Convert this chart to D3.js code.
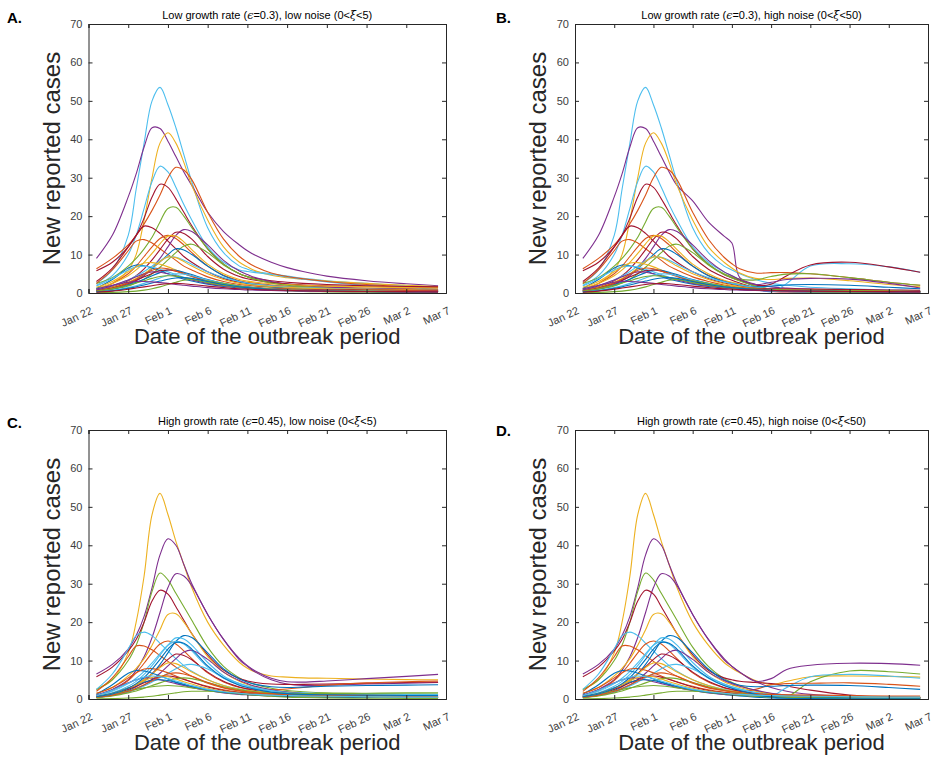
<!DOCTYPE html>
<html><head><meta charset="utf-8">
<script src="https://cdn.jsdelivr.net/npm/d3@7"></script>
<style>
body{margin:0;background:#fff}
svg{display:block}
text{font-family:"Liberation Sans",Arial,Helvetica,sans-serif}
</style>
</head><body>
<svg id="chart" width="935" height="763"></svg>
<script>
// ---------------- DATA ----------------
const tickDays = [0,5,10,15,20,25,30,35,40,45];
const tickLabels = ["Jan 22","Jan 27","Feb 1","Feb 6","Feb 11","Feb 16","Feb 21","Feb 26","Mar 2","Mar 7"];
const yTicks = [0,10,20,30,40,50,60,70];
const earlyDays = [1,3,5,6,7,8,9,10,11,12,13];
const lateDays = [15,17,19,20,21,23,25,27,30,35,40,44];
const titles = [
  "Low growth rate (ϵ=0.3), low noise (0<ξ<5)",
  "Low growth rate (ϵ=0.3), high noise (0<ξ<50)",
  "High growth rate (ϵ=0.45), low noise (0<ξ<5)",
  "High growth rate (ϵ=0.45), high noise (0<ξ<50)"
];
const panelLetters = ["A.","B.","C.","D."];
const yLabel = "New reported cases";
const xLabel = "Date of the outbreak period";

// colour keys (MATLAB default order)
const abColors = ["C","P","Y","C","O","R","G","R","O","O","P","R","Y","G","B","C","Y","B","C","Y","B","R","P","O","C","G","G","B","P","R"];
const cdColors = ["Y","P","G","P","R","Y","C","O","O","B","C","C","P","R","Y","B","C","O","R","P","G","G","G","B","Y","O","B","C"];

// low growth rate curves, days 1..13 (shared by A and B)
const abEarly = [
 [2.5,6,15,27,39,50,53.5,49,43,36,29],
 [9,15,25,31,38,43,42.8,39.5,35.5,31.5,28],
 [1,2.5,6,10,19,30,39,41.7,39,34,28],
 [2,4.5,10,15,22,29,33,31.5,27.5,23,19],
 [6.3,9,12.5,15,18,21.5,25.5,30,32.7,32,29.5],
 [5.8,8,12,15,19.5,25,28.3,27.5,24.5,21,17.5],
 [2.5,4,7,9,11.5,14.5,18.5,22,22.3,20,17],
 [3,6.5,12,15,17.4,17,15.5,13.5,11.5,9.5,8],
 [2.5,6,11,13.5,13.9,13,11.5,10,8.5,7,6],
 [1,2.5,5,7,9.5,12,14.2,15,14.2,12.5,10.5],
 [0.5,1,2.2,3.2,4.5,6.5,9,12,15,16.5,16],
 [0.8,1.6,3.2,4.5,6.3,8.6,11.3,14,15.8,15.5,14],
 [1.2,2.5,4.5,6,8,10.3,12.8,14.8,14.8,13.3,11.3],
 [0.4,0.9,1.8,2.6,3.6,5,6.7,8.6,10.5,12.2,12.7],
 [0.6,1.3,2.6,3.6,4.9,6.4,8.1,10,11.5,11.2,10],
 [1,1.9,3.4,4.4,5.6,7,8.4,9.4,9.3,8.5,7.5],
 [0.7,1.5,2.8,3.8,5,6.5,8.2,9.4,9.2,8.2,7],
 [1.2,3.5,6.5,7.3,7.1,6.5,5.8,5,4.3,3.6,3.1],
 [1.8,3.8,6,6.8,7,6.7,6.2,5.5,4.8,4.1,3.5],
 [1.5,3,5.5,6.8,7.8,7.9,7.5,6.8,6,5.2,4.5],
 [0.5,1.1,2.1,2.8,3.6,4.5,5.3,6,5.9,5.4,4.8],
 [0.6,1.3,2.5,3.3,4.2,5.1,5.8,6,5.7,5.1,4.4],
 [0.8,1.9,3.4,4.2,5,5.5,5.4,5,4.5,3.9,3.4],
 [0.5,1.2,2.6,3.6,4.8,5.9,6.5,6.3,5.7,5,4.3],
 [0.3,0.7,1.4,1.9,2.5,3.2,3.9,4.6,5,4.9,4.5],
 [0.05,0.15,0.35,0.5,0.75,1.1,1.6,2.2,2.8,3.3,3.5],
 [0.5,1.1,2,2.6,3.2,3.8,4.3,4.5,4.4,4,3.6],
 [0.3,0.6,1.2,1.6,2.1,2.6,3.1,3.6,3.9,4,3.8],
 [1,2,2.8,3,3,2.9,2.7,2.5,2.2,2,1.8],
 [0.2,0.5,1,1.3,1.6,1.9,2.2,2.4,2.5,2.4,2.2]
];
// panel A, days 15..44
const aLate = [
 [17,10.5,7,6.2,5.6,5,4.4,3.8,3.2,2.5,1.9,1.5],
 [21,16,12.5,11,9.8,8,6.6,5.6,4.4,3.2,2.4,1.9],
 [19,12,8,6.8,5.8,4.6,4,3.6,3.1,2.5,2,1.7],
 [12,8,6,5.6,5.3,4.8,4.2,3.6,2.9,2,1.4,1],
 [21,14,9.5,8,6.8,5.2,4.3,3.7,3,2.2,1.6,1.3],
 [11.5,7.5,5,4.3,3.8,3.2,2.8,2.5,2.2,1.9,1.7,1.6],
 [11.5,7.5,5,4.2,3.6,2.8,2.3,1.9,1.5,1.1,0.8,0.6],
 [5.5,3.8,2.8,2.5,2.2,1.9,1.7,1.5,1.3,1.1,1,0.9],
 [4.2,3,2.2,2,1.8,1.5,1.3,1.2,1,0.9,0.8,0.7],
 [7,4.6,3.2,2.8,2.5,2.1,1.8,1.6,1.4,1.2,1,0.9],
 [12.5,8.5,5.7,4.8,4,3,2.4,2,1.6,1.2,1,0.8],
 [9.5,6.2,4.3,3.7,3.3,2.7,2.3,2.1,1.9,1.7,1.6,1.5],
 [7.5,5,3.5,3.1,2.8,2.4,2.2,2,1.8,1.6,1.4,1.3],
 [10.5,7.3,5,4.2,3.5,2.6,2,1.6,1.2,0.9,0.7,0.6],
 [7,4.5,3,2.5,2.1,1.6,1.3,1.1,0.9,0.8,0.7,0.6],
 [5.5,4,3,2.6,2.3,1.9,1.6,1.4,1.2,1,0.9,0.8],
 [5,3.5,2.5,2.2,2,1.7,1.5,1.3,1.1,1,0.9,0.8],
 [2.3,1.7,1.3,1.2,1.1,0.95,0.85,0.75,0.65,0.55,0.5,0.45],
 [2.6,2,1.6,1.4,1.3,1.1,1,0.9,0.8,0.7,0.6,0.5],
 [3.3,2.4,1.8,1.6,1.4,1.2,1.1,1,0.9,0.8,0.7,0.6],
 [3.5,2.5,1.8,1.6,1.4,1.1,0.9,0.8,0.7,0.6,0.5,0.5],
 [3.1,2.2,1.6,1.4,1.3,1.1,1,0.9,0.8,0.8,0.7,0.7],
 [2.5,1.9,1.5,1.3,1.2,1,0.9,0.8,0.7,0.6,0.5,0.5],
 [3,2.1,1.5,1.3,1.2,1,0.9,0.8,0.7,0.6,0.6,0.5],
 [3.4,2.4,1.7,1.5,1.3,1,0.8,0.7,0.6,0.5,0.4,0.4],
 [3.2,2.5,1.8,1.5,1.3,0.9,0.6,0.4,0.3,0.2,0.1,0.1],
 [2.7,2,1.5,1.3,1.2,1,0.8,0.7,0.6,0.5,0.4,0.4],
 [3,2.2,1.6,1.4,1.2,0.9,0.7,0.6,0.5,0.4,0.3,0.3],
 [1.4,1.1,0.9,0.8,0.75,0.65,0.55,0.5,0.4,0.35,0.3,0.3],
 [1.8,1.4,1.1,1,0.9,0.8,0.7,0.6,0.5,0.4,0.35,0.3]
];
// panel B, days 15..44
const bLate = [
 [17,10.5,7,6,5,3.5,2.5,2,1.5,1.1,0.8,0.6],
 [24,18.5,14.8,13,4,2.3,1.6,1.3,1,0.8,0.6,0.5],
 [19,12,8,6.5,5.2,3.8,3.5,3.8,3.9,3.2,2.2,1.6],
 [12,8,5.5,4.5,3.5,1.5,0.3,2.5,7,7.6,6.8,5.4],
 [21,14,9.3,7.6,6.3,5.2,5.3,5.3,5,4,2.8,2],
 [11.5,7.5,4.8,4,3.3,2,2.3,4.5,7.3,8,6.8,5.4],
 [11.5,7.5,5,4.2,3.6,3.4,4.3,4.9,5,4,2.8,2],
 [5.5,3.8,2.6,2.2,1.8,1.2,1,0.9,0.8,0.6,0.5,0.4],
 [4.2,3,2.1,1.8,1.5,1.1,0.9,0.8,0.7,0.6,0.5,0.4],
 [7,4.6,3.1,2.6,2.2,1.5,1.1,0.9,0.7,0.6,0.5,0.4],
 [12.5,8.5,5.5,4.5,3.5,2.2,2.8,3.5,3.8,3.6,2.5,1.3],
 [9.5,6.2,4.1,3.3,2.6,1.3,0.4,0.3,0.25,0.2,0.2,0.2],
 [7.5,5,3.3,2.8,2.3,1.5,1.1,0.9,0.8,0.7,0.6,0.5],
 [10.5,7.3,4.8,3.9,3.1,1.8,1,0.7,0.5,0.4,0.3,0.3],
 [7,4.5,3,2.5,2.1,1.6,1.8,2.1,2.2,2,1.5,1.1],
 [5.5,4,2.9,2.5,2.1,1.5,1.1,0.9,0.8,0.7,0.6,0.5],
 [5,3.5,2.4,2,1.7,1.2,0.9,0.6,0.4,0.3,0.2,0.2],
 [2.3,1.7,1.3,1.1,1,0.7,0.5,0.4,0.3,0.2,0.2,0.1],
 [2.6,2,1.5,1.3,1.2,0.9,0.7,0.6,0.5,0.4,0.3,0.3],
 [3.3,2.4,1.8,1.6,1.4,1.1,0.9,0.8,0.7,0.6,0.5,0.4],
 [3.5,2.5,1.7,1.4,1.2,0.8,0.6,0.5,0.4,0.3,0.3,0.2],
 [3.1,2.2,1.6,1.4,1.3,1.2,1.1,1.1,1,0.9,0.8,0.7],
 [2.5,1.9,1.4,1.2,1,0.7,0.5,0.4,0.3,0.2,0.2,0.2],
 [3,2.1,1.5,1.3,1.2,1,0.9,0.8,0.7,0.6,0.5,0.4],
 [3.4,2.4,1.6,1.3,1.1,0.7,0.5,0.4,0.3,0.2,0.2,0.2],
 [3.2,2.5,1.8,1.5,1.3,0.9,0.6,0.4,0.3,0.2,0.1,0.1],
 [2.7,2,1.5,1.3,1.2,1,0.9,0.8,0.7,0.6,0.5,0.4],
 [3,2.2,1.6,1.4,1.2,0.9,0.7,0.6,0.5,0.4,0.3,0.3],
 [1.4,1.1,0.9,0.8,0.75,0.65,0.55,0.5,0.4,0.35,0.3,0.3],
 [1.8,1.4,1.1,1,0.9,0.8,0.7,0.6,0.5,0.4,0.35,0.3]
];

// high growth rate curves, days 1..13 (shared by C and D)
const cdEarly = [
 [2.5,5,12,20,32,48,53.5,48,41,35,29],
 [6.5,9,13,16.5,21.5,29,37.5,41.7,40,35,30],
 [2.5,5,10,14,20,28,32.8,31,27.5,24,20.5],
 [1,2.5,5,7.5,11,16,22.5,29,32.6,32,29.5],
 [5.8,8.3,12.5,15.5,20,25.5,28.3,27.3,24,20.5,17],
 [1.5,3,6,8,10.5,14,18,22,22.2,20,17],
 [2.5,6.5,13,16.5,17.4,16.5,14.5,12.5,10.5,8.7,7.2],
 [2,5.5,11,13.8,13.8,12.8,11.3,9.8,8.3,7,5.9],
 [0.9,2.2,4.8,6.8,9.3,12,14.3,15.1,14.3,12.5,10.5],
 [0.5,1,2.2,3.2,4.6,6.5,9,12,15,16.5,16],
 [0.8,1.6,3.3,4.6,6.4,8.7,11.4,14,15.9,15.6,14],
 [1,2,4,5.4,7.2,9.4,11.8,14,15,14.3,12.5],
 [0.4,0.9,1.8,2.6,3.6,5,6.7,8.6,10.5,12.2,12.7],
 [0.6,1.3,2.7,3.7,5,6.6,8.4,10.3,11.7,11.3,10.2],
 [0.7,1.5,2.8,3.8,5,6.5,8.2,9.4,9.2,8.2,7],
 [1.2,3.7,6.7,7.4,7.3,6.7,6,5.2,4.4,3.7,3.2],
 [0.5,1,1.9,2.6,3.4,4.4,5.5,6.7,7.9,8.8,9],
 [1.5,3,5.5,6.8,7.8,7.9,7.5,6.8,6,5.2,4.5],
 [0.6,1.3,2.5,3.3,4.2,5.1,5.8,6,5.7,5.1,4.4],
 [1,2.4,4.2,5,5.5,5.4,5,4.5,4,3.5,3],
 [0.4,0.8,1.6,2.1,2.8,3.5,4.2,4.8,5.3,5.5,5.3],
 [0.6,1.3,2.1,2.5,2.9,3.2,3.4,3.5,3.4,3.2,2.9],
 [0.05,0.1,0.25,0.35,0.5,0.7,1,1.3,1.6,1.9,2],
 [0.6,1.5,2.9,3.7,4.4,4.9,5,4.8,4.3,3.8,3.3],
 [0.5,1.3,2.8,3.7,4.7,5.6,6,5.8,5.2,4.5,3.9],
 [0.5,1,2,2.8,3.7,4.7,5.7,6.5,6.8,6.5,5.9],
 [0.6,1.3,2.8,4,5.6,7.8,10.3,13,14.7,14.5,13],
 [0.9,2.3,4.1,5,5.7,6,5.8,5.3,4.7,4.1,3.5]
];
// panel C, days 15..44
const cLate = [
 [20,14,9.5,8,7,6,5.7,5.5,5.4,5.2,5.05,5],
 [22,15.5,10.5,8.7,7.3,5.4,4.5,4.4,4.7,5.3,5.9,6.4],
 [13.5,8.5,5.5,4.5,3.8,2.8,2.2,1.9,1.6,1.4,1.3,1.2],
 [22,15.5,10.2,8.5,7,5,3.9,3.5,3.6,3.9,4.1,4.3],
 [11.5,7.5,5.3,4.7,4.3,3.9,3.8,3.8,3.9,4.1,4.3,4.4],
 [11,7,4.6,3.8,3.2,2.4,1.9,1.6,1.3,1.1,0.9,0.8],
 [5,3.5,2.6,2.3,2,1.7,1.5,1.4,1.3,1.2,1.1,1],
 [4.1,2.9,2.1,1.8,1.6,1.3,1.1,1,0.9,0.8,0.7,0.7],
 [6.8,4.4,3,2.7,2.5,2.4,2.6,3,3.6,4.2,4.5,4.7],
 [12,7.8,5.2,4.4,3.8,3.2,3,3.1,3.3,3.5,3.6,3.7],
 [9.5,6,4,3.4,2.9,2.2,1.8,1.6,1.4,1.3,1.2,1.2],
 [8.3,5.4,3.6,3.1,2.7,2.1,1.7,1.5,1.3,1.2,1.1,1],
 [10.3,7,4.8,4,3.3,2.4,1.8,1.4,1.1,0.8,0.6,0.5],
 [7,4.6,3.1,2.6,2.2,1.6,1.2,1,0.8,0.6,0.5,0.4],
 [5,3.5,2.5,2.2,2,1.7,1.5,1.3,1.1,1,0.9,0.8],
 [2.3,1.7,1.3,1.2,1.1,0.9,0.8,0.7,0.6,0.5,0.5,0.4],
 [7.8,5.6,4,3.4,2.9,2.2,1.7,1.4,1.1,0.9,0.8,0.7],
 [3.3,2.4,1.8,1.6,1.4,1.2,1.1,1,0.9,0.8,0.7,0.6],
 [3.1,2.2,1.6,1.4,1.3,1.1,1,0.9,0.8,0.8,0.7,0.7],
 [2.2,1.6,1.2,1.1,1,0.8,0.7,0.6,0.5,0.4,0.4,0.3],
 [4.3,3.2,2.4,2.1,1.9,1.6,1.5,1.4,1.4,1.5,1.6,1.6],
 [2.3,1.8,1.4,1.2,1.1,0.9,0.8,0.7,0.6,0.5,0.4,0.4],
 [2,1.7,1.3,1.1,1,0.7,0.5,0.4,0.3,0.2,0.15,0.1],
 [2.4,1.8,1.4,1.2,1.1,0.9,0.8,0.7,0.6,0.5,0.4,0.4],
 [2.8,2,1.5,1.3,1.2,1,0.9,0.8,0.7,0.6,0.5,0.5],
 [4.3,3,2.2,1.9,1.7,1.4,1.2,1.1,1,0.9,0.8,0.8],
 [8.6,5.5,3.6,3,2.5,1.8,1.4,1.2,1.1,1,0.9,0.9],
 [2.5,1.9,1.5,1.3,1.2,1,0.9,0.8,0.7,0.6,0.5,0.5]
];
// panel D, days 15..44
const dLate = [
 [20,14,9.5,8,6.8,4.8,3.8,4.6,5.8,6,5.9,5.7],
 [22,15.5,10.5,8.5,7,4.6,3,2,1.2,0.7,0.5,0.4],
 [13.5,8.5,5.3,4.3,3.5,2.2,1.2,0.6,4.5,7.3,7.1,6.5],
 [22,15.5,10.2,8.5,7,4.6,5.3,7.7,8.8,9.3,9.2,8.8],
 [11.5,7.5,5.5,5,4.6,4.3,4,3.4,2.3,1,0.4,0.2],
 [11,7,4.5,3.7,3,2,1.4,1,0.7,0.5,0.4,0.3],
 [5,3.5,2.5,2.1,1.7,1,0.7,3,5.8,6.4,6,5.4],
 [4.1,2.9,2.2,2,1.9,2.5,3.7,4,4.1,4.2,3.8,3.3],
 [6.8,4.4,2.9,2.4,2,1.4,1,0.8,0.6,0.5,0.4,0.3],
 [12,7.8,5,4.2,3.6,3.2,3.3,3.5,3.6,3.5,3,2.5],
 [9.5,6,3.9,3.2,2.6,1.7,1.1,0.8,0.5,0.3,0.2,0.2],
 [8.3,5.4,3.5,2.9,2.4,1.6,1,0.6,0.4,0.2,0.1,0.1],
 [10.3,7,4.8,4,3.3,2.3,1.5,1,0.6,0.4,0.3,0.2],
 [7,4.6,3,2.5,2.1,1.4,0.9,0.7,0.5,0.4,0.3,0.3],
 [5,3.5,2.4,2,1.7,1.2,0.8,0.6,0.4,0.3,0.2,0.2],
 [2.3,1.7,1.2,1,0.8,0.5,0.3,0.2,0.1,0.1,0.05,0.05],
 [7.8,5.6,3.9,3.2,2.6,1.7,1,0.5,0.2,0.1,0.1,0.1],
 [3.3,2.4,1.8,1.6,1.4,1.1,0.9,0.8,0.7,0.6,0.5,0.4],
 [3.1,2.2,1.6,1.4,1.3,1.1,1,0.9,0.8,0.7,0.6,0.5],
 [2.2,1.6,1.2,1.1,1,0.8,0.7,0.6,0.5,0.4,0.4,0.3],
 [4.3,3.2,2.3,1.9,1.6,1.1,0.8,0.6,0.5,0.4,0.3,0.3],
 [2.3,1.8,1.4,1.2,1.1,0.9,0.8,0.7,0.6,0.5,0.4,0.4],
 [2,1.7,1.3,1.1,1,0.7,0.5,0.4,0.3,0.2,0.15,0.1],
 [2.4,1.8,1.4,1.2,1.1,0.9,0.8,0.7,0.6,0.5,0.4,0.4],
 [2.8,2,1.5,1.3,1.2,1,0.9,0.8,0.7,0.6,0.5,0.5],
 [4.3,3,2.2,1.9,1.7,1.4,1.2,1.1,1,0.9,0.8,0.8],
 [8.6,5.5,3.5,2.8,2.2,1.2,0.5,0.2,0.1,0.05,0.05,0.05],
 [2.5,1.9,1.5,1.3,1.2,1,0.9,0.8,0.7,0.6,0.5,0.5]
];

// ---------------- DRAWING ----------------
const palette = {B:"#0072BD",O:"#D95319",Y:"#EDB120",P:"#7E2F8E",G:"#77AC30",C:"#4DBEEE",R:"#A2142F"};
const startDate = new Date(2020,0,22);
const dayToDate = d => d3.timeDay.offset(startDate, d);
const allDays = earlyDays.concat(lateDays);

const layout = [
  {x0:88.5, x1:446, y0:24, y1:293, lx:7, ly:23, early:abEarly, late:aLate, colors:abColors, ylx:60},
  {x0:575, x1:928, y0:24, y1:293, lx:496, ly:23, early:abEarly, late:bLate, colors:abColors, ylx:546},
  {x0:88.5, x1:446, y0:430, y1:699, lx:7, ly:428, early:cdEarly, late:cLate, colors:cdColors, ylx:60},
  {x0:575, x1:928, y0:430, y1:699, lx:496, ly:436, early:cdEarly, late:dLate, colors:cdColors, ylx:546}
];

const svg = d3.select("#chart");
const axisColor = "#262626";

layout.forEach((p, i) => {
  const x = d3.scaleTime().domain([dayToDate(0), dayToDate(45)]).range([p.x0, p.x1]);
  const y = d3.scaleLinear().domain([0,70]).range([p.y1, p.y0]);
  const g = svg.append("g");

  const clipId = "clip" + i;
  svg.append("clipPath").attr("id", clipId).append("rect")
    .attr("x", p.x0).attr("y", p.y0).attr("width", p.x1 - p.x0).attr("height", p.y1 - p.y0);

  const line = d3.line()
    .x(d => x(dayToDate(d[0])))
    .y(d => y(d[1]))
    .curve(d3.curveCatmullRom.alpha(0.5));

  const series = p.early.map((e, k) => {
    const vals = e.concat(p.late[k]);
    return {color: palette[p.colors[k]], pts: allDays.map((d, j) => [d, vals[j]])};
  });

  g.append("g").attr("clip-path", `url(#${clipId})`)
    .selectAll("path").data(series).join("path")
    .attr("d", s => line(s.pts))
    .attr("fill", "none")
    .attr("stroke", s => s.color)
    .attr("stroke-width", 1.1);

  // axes (MATLAB style: ticks inward on all four sides)
  const tickVals = tickDays.map(dayToDate);
  const xb = d3.axisBottom(x).tickValues(tickVals).tickSize(-4).tickFormat("");
  const xt = d3.axisTop(x).tickValues(tickVals).tickSize(-4).tickFormat("");
  const yl = d3.axisLeft(y).tickValues(yTicks).tickSize(-4).tickPadding(6);
  const yr = d3.axisRight(y).tickValues(yTicks).tickSize(-4).tickFormat("");

  const styleAxis = sel => {
    sel.selectAll("path").attr("stroke", axisColor).attr("stroke-width", 1);
    sel.selectAll("line").attr("stroke", axisColor).attr("stroke-width", 1);
    sel.selectAll("text").attr("fill", "#404040").attr("font-size", 11)
      .attr("font-family", '"Liberation Sans", Arial, sans-serif');
  };
  g.append("g").attr("transform", `translate(0,${p.y1})`).call(xb).call(styleAxis);
  g.append("g").attr("transform", `translate(0,${p.y0})`).call(xt).call(styleAxis);
  g.append("g").attr("transform", `translate(${p.x0},0)`).call(yl).call(styleAxis);
  g.append("g").attr("transform", `translate(${p.x1},0)`).call(yr).call(styleAxis);

  // rotated x tick labels
  g.append("g").selectAll("text").data(tickDays).join("text")
    .attr("transform", (d) => `translate(${x(dayToDate(d)) + 1.5},${p.y1 + 13}) rotate(-25)`)
    .attr("text-anchor", "end")
    .attr("dy", "0.71em")
    .attr("font-size", 11)
    .attr("fill", "#404040")
    .text((d, j) => tickLabels[j]);

  // title with italic greek letters
  const t = g.append("text")
    .attr("x", (p.x0 + p.x1) / 2).attr("y", p.y0 - 5)
    .attr("text-anchor", "middle").attr("font-size", 11).attr("fill", "#000");
  const parts = titles[i].split(/([ϵξ])/);
  parts.forEach(s => {
    if (!s) return;
    const ts = t.append("tspan").text(s);
    if (s === "ϵ" || s === "ξ") ts.attr("font-style", "italic").attr("font-family", '"DejaVu Serif", serif');
  });

  // axis labels
  g.append("text")
    .attr("transform", `translate(${p.ylx},${(p.y0 + p.y1) / 2}) rotate(-90)`)
    .attr("text-anchor", "middle").attr("font-size", 24).attr("fill", "#262626")
    .text(yLabel);
  g.append("text")
    .attr("x", (p.x0 + p.x1) / 2).attr("y", p.y1 + 51)
    .attr("text-anchor", "middle").attr("font-size", 22).attr("fill", "#262626")
    .text(xLabel);

  // panel letter
  svg.append("text").attr("x", p.lx).attr("y", p.ly)
    .attr("font-size", 15).attr("font-weight", "bold")
    .attr("font-family", 'Lato, "Open Sans", sans-serif').attr("fill", "#000")
    .text(panelLetters[i]);
});
</script>
</body></html>
